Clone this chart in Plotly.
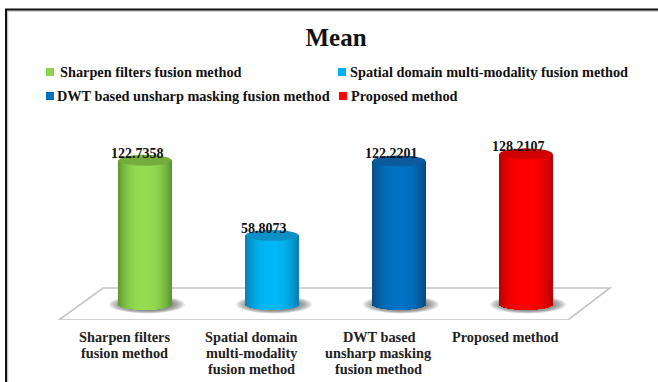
import numpy as np
import plotly.graph_objects as go

# Chart content
methods = ["Sharpen filters fusion method", "Spatial domain multi-modality fusion method",
           "DWT based unsharp masking fusion method", "Proposed method"]
tick_labels = [["Sharpen filters", "fusion method"],
               ["Spatial domain", "multi-modality", "fusion method"],
               ["DWT based", "unsharp masking", "fusion method"],
               ["Proposed method"]]
means = [122.7358, 58.8073, 122.2201, 128.2107]

# Cylinder shading per method
centre_colors = ["#95dc52", "#00b7f5", "#0072c4", "#ff0000"]
edge_colors = ["#5c9630", "#0a7db0", "#0b4a80", "#b80000"]
cap_colors = ["#74ad3b", "#0c90c8", "#0a5a9c", "#d00000"]
legend_colors = ["#92d050", "#00b0f0", "#0070c0", "#ff0000"]

# Canvas geometry
W, H = 658, 382
PLOT_BOTTOM = 320            # pixel row of the axis bottom
BASE_PX = 304.5              # pixel row of value 0
PX_PER_UNIT = 1.175
FIRST_PX, STEP_PX = 145, 127 # cylinder spacing
HALF_PX, CAP_PX = 26.5, 5.5  # cylinder radius and ellipse semi-height


def xd(px):
    return (px - FIRST_PX) / STEP_PX


def yd(py):
    return (BASE_PX - py) / PX_PER_UNIT


def blend(a, b, t):
    ca = [int(a[i:i + 2], 16) for i in (1, 3, 5)]
    cb = [int(b[i:i + 2], 16) for i in (1, 3, 5)]
    return "rgb({},{},{})".format(*[round(p + (q - p) * t) for p, q in zip(ca, cb)])


half_w = HALF_PX / STEP_PX
cap_h = CAP_PX / PX_PER_UNIT
positions = list(range(len(means)))

fig = go.Figure()

# Each cylinder body is a run of one-pixel bars with a curved lower end
n_slices = 53
u = (np.arange(n_slices) + 0.5) / n_slices * 2 - 1
for i, value in enumerate(means):
    drop = cap_h * np.sqrt(1 - u ** 2)
    fig.add_trace(go.Bar(
        x=positions[i] + u * half_w,
        y=value + drop,
        base=-drop,
        width=1.25 * 2 * half_w / n_slices,
        marker=dict(color=[blend(centre_colors[i], edge_colors[i], abs(t) ** 2.6) for t in u],
                    line=dict(width=0)),
        showlegend=False, hoverinfo="skip",
    ))

# Top faces of the cylinders
theta = np.linspace(0, 2 * np.pi, 90)
for i, value in enumerate(means):
    fig.add_trace(go.Scatter(
        x=positions[i] + half_w * np.cos(theta),
        y=value + cap_h * np.sin(theta),
        mode="lines", fill="toself", fillcolor=cap_colors[i],
        line=dict(width=0), showlegend=False, hoverinfo="skip",
    ))

shapes = []

# Floor outline
fx = [59, 103, 610, 568]
fy = [320, 288, 288, 320]
path = "M " + " L ".join(f"{xd(a)},{yd(b)}" for a, b in zip(fx, fy)) + " Z"
shapes.append(dict(type="path", path=path, xref="x", yref="y", layer="below",
                   line=dict(color="#c4c4c4", width=1.6), fillcolor="white"))

# Soft shadows under the cylinders, leaning to the right
for pos in positions:
    for k in np.linspace(1, 0.66, 8):
        centre = pos + 2 / STEP_PX
        shapes.append(dict(type="circle", xref="x", yref="y", layer="below",
                           x0=centre - k * 38 / STEP_PX, x1=centre + k * 38 / STEP_PX,
                           y0=-k * 9 / PX_PER_UNIT, y1=k * 9 / PX_PER_UNIT,
                           fillcolor="rgba(70,70,70,0.12)", line=dict(width=0)))

# Frame along the left and top edges
shapes += [
    dict(type="line", xref="paper", yref="paper", x0=7.5 / W, x1=7.5 / W, y0=-62 / PLOT_BOTTOM,
         y1=1 - 9 / PLOT_BOTTOM, line=dict(color="#c8c8c8", width=1.5)),
    dict(type="line", xref="paper", yref="paper", x0=6 / W, x1=1, y0=1 - 11 / PLOT_BOTTOM,
         y1=1 - 11 / PLOT_BOTTOM, line=dict(color="#c8c8c8", width=1.5)),
    dict(type="line", xref="paper", yref="paper", x0=6 / W, x1=6 / W, y0=-62 / PLOT_BOTTOM,
         y1=1 - 9 / PLOT_BOTTOM, line=dict(color="#111111", width=2)),
    dict(type="line", xref="paper", yref="paper", x0=5 / W, x1=1, y0=1 - 9.5 / PLOT_BOTTOM,
         y1=1 - 9.5 / PLOT_BOTTOM, line=dict(color="#111111", width=2)),
]

# Method key: square swatches followed by their names
key_rows = [72, 96, 72, 96]
order = [0, 2, 1, 3]
swatch_x = [50, 50, 342, 343]
text_x = [58, 55, 348, 349]
annotations = []
for j, idx in enumerate(order):
    sx, ky = swatch_x[j], key_rows[j]
    shapes.append(dict(type="rect", xref="paper", yref="paper",
                       x0=(sx - 4) / W, x1=(sx + 4) / W,
                       y0=1 - (ky + 4) / PLOT_BOTTOM, y1=1 - (ky - 4) / PLOT_BOTTOM,
                       fillcolor=legend_colors[idx], line=dict(width=0)))
    annotations.append(dict(text=f"<b>{methods[idx]}</b>", xref="paper", yref="paper",
                            x=text_x[j] / W, y=1 - ky / PLOT_BOTTOM, xanchor="left", yanchor="middle",
                            showarrow=False, font=dict(size=14.3, color="#111111")))

# Value labels above each cylinder
for pos, value in zip(positions, means):
    annotations.append(dict(text=f"<b>{value:.4f}</b>", x=pos, y=value, xref="x", yref="y",
                            xshift=-8, yshift=7, showarrow=False, xanchor="center", yanchor="middle",
                            font=dict(size=14, color="#111111")))

# Category labels, one annotation per line for 16px line spacing
for pos, lines in zip(positions, tick_labels):
    for n, line in enumerate(lines):
        annotations.append(dict(text=f"<b>{line}</b>", x=pos, xref="x", xshift=-20.5,
                                y=1 - (337 + 16 * n) / PLOT_BOTTOM, yref="paper",
                                showarrow=False, xanchor="center", yanchor="middle",
                                font=dict(size=14.3, color="#222222")))

fig.update_layout(
    width=W, height=H,
    margin=dict(l=0, r=0, t=0, b=H - PLOT_BOTTOM, autoexpand=False),
    paper_bgcolor="white", plot_bgcolor="rgba(0,0,0,0)",
    barmode="overlay", bargap=0,
    showlegend=False,
    title=dict(text="<b>Mean</b>", x=336 / W, xanchor="center", y=1 - 37 / H, yanchor="middle",
               font=dict(size=25, color="#111111", family="Liberation Serif")),
    font=dict(family="Liberation Serif", color="#111111"),
    shapes=shapes, annotations=annotations,
    xaxis=dict(range=[xd(0), xd(W)], showticklabels=False,
               showgrid=False, zeroline=False, showline=False, ticks=""),
    yaxis=dict(range=[yd(PLOT_BOTTOM), yd(0)], visible=False),
)

fig.write_html("out.html", config=dict(displayModeBar=False))
